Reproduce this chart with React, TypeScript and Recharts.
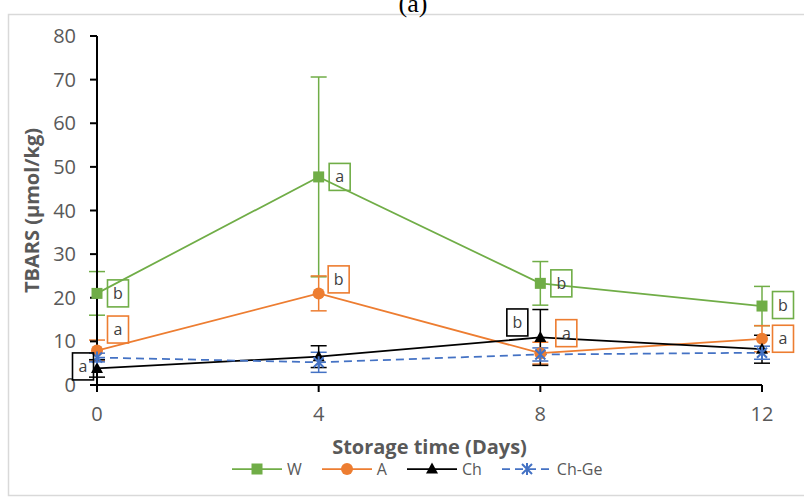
import React from "react";
import { ComposedChart, Line, XAxis, YAxis, ErrorBar, LabelList, Label } from "recharts";

const days = [0, 4, 8, 12];
const wMean = [21.0, 47.7, 23.3, 18.1];
const wErr = [5.0, 22.9, 5.0, 4.5];
const aMean = [7.9, 21.0, 7.3, 10.6];
const aErr = [2.4, 4.0, 2.5, 3.0];
const chMean = [3.8, 6.5, 10.9, 8.2];
const chErr = [2.0, 2.5, 6.4, 3.2];
const chGeMean = [6.3, 5.2, 7.0, 7.4];
const chGeErr = [1.0, 2.3, 1.5, 1.5];
const wTags = ["b", "a", "b", "b"];
const aTags = ["a", "b", "a", "a"];
const chTags = ["a", "", "b", ""];
const yTicks = [0, 10, 20, 30, 40, 50, 60, 70, 80];

const data = days.map((d, i) => ({
  day: d,
  w: wMean[i], wErr: wErr[i], wTag: wTags[i],
  a: aMean[i], aErr: aErr[i], aTag: aTags[i],
  ch: chMean[i], chErr: chErr[i], chTag: chTags[i],
  chGe: chGeMean[i], chGeErr: chGeErr[i],
}));

const GREEN = "#70AD47";
const ORANGE = "#ED7D31";
const BLACK = "#000000";
const BLUE = "#4472C4";
const TEXT = "#595959";
const FONT = "'Open Sans', sans-serif";

// where each letter box sits relative to its point
const tagOffsets: Record<string, ([number, number] | null)[]> = {
  w: [[21, 0], [21, 0], [21, 0], [21, -1]],
  a: [[21, -21], [20, -14], [26, -20], [21, 0]],
  ch: [[-14, -2], null, [-23, -15], null],
};

const tag = (key: string, color: string) => (p: any) => {
  const off = tagOffsets[key][p.index];
  if (!off || !p.value) return null;
  const cx = p.x + off[0];
  const cy = p.y + off[1];
  return (
    <g key={`${key}-${p.index}`}>
      <rect x={cx - 10.5} y={cy - 13.5} width={21} height={27} fill="none" stroke={color} strokeWidth={1.6} />
      <text x={cx} y={cy + 5.5} textAnchor="middle" fontSize={16} fontFamily={FONT} fill="#404040">{p.value}</text>
    </g>
  );
};

const Square = (p: any) => <rect key={p.index} x={p.cx - 5.5} y={p.cy - 5.5} width={11} height={11} fill={GREEN} />;
const Dot = (p: any) => <circle key={p.index} cx={p.cx} cy={p.cy} r={6} fill={ORANGE} />;
const Tri = (p: any) => (
  <path key={p.index} d={`M${p.cx},${p.cy - 6.5} L${p.cx + 6},${p.cy + 4.5} L${p.cx - 6},${p.cy + 4.5} Z`} fill={BLACK} />
);
const Star = (p: any) => (
  <path key={p.index} d={`M${p.cx - 5},${p.cy - 5} L${p.cx + 5},${p.cy + 5} M${p.cx + 5},${p.cy - 5} L${p.cx - 5},${p.cy + 5} M${p.cx},${p.cy - 6} L${p.cx},${p.cy + 6}`} stroke={BLUE} strokeWidth={2} fill="none" />
);

const legendItems = [
  { name: "W", color: GREEN, marker: "square", dash: "" },
  { name: "A", color: ORANGE, marker: "circle", dash: "" },
  { name: "Ch", color: BLACK, marker: "tri", dash: "" },
  { name: "Ch-Ge", color: BLUE, marker: "star", dash: "8 5" },
];

function LegendGlyph({ marker, color, dash }: { marker: string; color: string; dash: string }) {
  const cx = 25, cy = 8;
  return (
    <svg width={50} height={16} style={{ display: "block" }}>
      <line x1={0} y1={cy} x2={50} y2={cy} stroke={color} strokeWidth={1.75} strokeDasharray={dash || undefined} />
      {marker === "square" && <rect x={cx - 5.5} y={cy - 5.5} width={11} height={11} fill={color} />}
      {marker === "circle" && <circle cx={cx} cy={cy} r={6} fill={color} />}
      {marker === "tri" && <path d={`M${cx},${cy - 6.5} L${cx + 6},${cy + 4.5} L${cx - 6},${cy + 4.5} Z`} fill={color} />}
      {marker === "star" && (
        <path d={`M${cx - 5},${cy - 5} L${cx + 5},${cy + 5} M${cx + 5},${cy - 5} L${cx - 5},${cy + 5} M${cx},${cy - 6} L${cx},${cy + 6}`} stroke={color} strokeWidth={2} />
      )}
    </svg>
  );
}

export default function App() {
  return (
    <div style={{ position: "absolute", left: 0, top: 0, width: 804, height: 498, background: "#fff", overflow: "hidden" }}>
      <svg width={804} height={498} style={{ position: "absolute", left: 0, top: 0 }}>
        <rect x={8.5} y={14.5} width={820} height={481} fill="none" stroke="#D9D9D9" strokeWidth={1.5} />
        <text x={413} y={12} textAnchor="middle" fontSize={26} fontFamily="'Liberation Serif', serif" fill="#000">(a)</text>
      </svg>
      <div style={{ position: "absolute", left: 0, top: 0 }}>
        <ComposedChart width={804} height={498} data={data} margin={{ top: 36, right: 42, bottom: 41, left: 0 }}>
          <XAxis
            dataKey="day" type="number" domain={[0, 12]} ticks={days} height={72}
            axisLine={{ stroke: "#000", strokeWidth: 2 }} tickLine={{ stroke: "#000", strokeWidth: 2 }} tickSize={7} tickMargin={15}
            tick={{ fill: TEXT, fontSize: 20, fontFamily: FONT }}
          >
            <Label value="Storage time (Days)" position="insideBottom" offset={3} fill={TEXT} fontSize={20} fontWeight="bold" fontFamily={FONT} />
          </XAxis>
          <YAxis
            type="number" domain={[0, 80]} ticks={yTicks} width={97} interval={0}
            axisLine={{ stroke: "#000", strokeWidth: 2 }} tickLine={{ stroke: "#000", strokeWidth: 2 }} tickSize={7} tickMargin={14}
            tick={{ fill: TEXT, fontSize: 20, fontFamily: FONT }}
          >
            <Label value="TBARS (μmol/kg)" angle={-90} position="insideLeft" offset={32} fill={TEXT} fontSize={20} fontWeight="bold" fontFamily={FONT} style={{ textAnchor: "middle" }} />
          </YAxis>
          <Line dataKey="w" stroke={GREEN} strokeWidth={1.75} dot={Square} activeDot={false} isAnimationActive={false}>
            <ErrorBar dataKey="wErr" width={8} stroke={GREEN} strokeWidth={1.5} direction="y" />
            <LabelList dataKey="wTag" content={tag("w", GREEN)} />
          </Line>
          <Line dataKey="a" stroke={ORANGE} strokeWidth={1.75} dot={Dot} activeDot={false} isAnimationActive={false}>
            <ErrorBar dataKey="aErr" width={8} stroke={ORANGE} strokeWidth={1.5} direction="y" />
            <LabelList dataKey="aTag" content={tag("a", ORANGE)} />
          </Line>
          <Line dataKey="ch" stroke={BLACK} strokeWidth={1.75} dot={Tri} activeDot={false} isAnimationActive={false}>
            <ErrorBar dataKey="chErr" width={8} stroke={BLACK} strokeWidth={1.5} direction="y" />
            <LabelList dataKey="chTag" content={tag("ch", BLACK)} />
          </Line>
          <Line dataKey="chGe" stroke={BLUE} strokeWidth={1.75} strokeDasharray="8 5" dot={Star} activeDot={false} isAnimationActive={false}>
            <ErrorBar dataKey="chGeErr" width={8} stroke={BLUE} strokeWidth={1.5} direction="y" />
          </Line>
        </ComposedChart>
      </div>
      <div style={{ position: "absolute", left: 232, top: 460, display: "flex", alignItems: "center", fontFamily: FONT, fontSize: 16, lineHeight: "18px", color: TEXT }}>
        {legendItems.map((it) => (
          <div key={it.name} style={{ display: "flex", alignItems: "center", marginRight: 20 }}>
            <LegendGlyph marker={it.marker} color={it.color} dash={it.dash} />
            <span style={{ marginLeft: 5 }}>{it.name}</span>
          </div>
        ))}
      </div>
    </div>
  );
}
